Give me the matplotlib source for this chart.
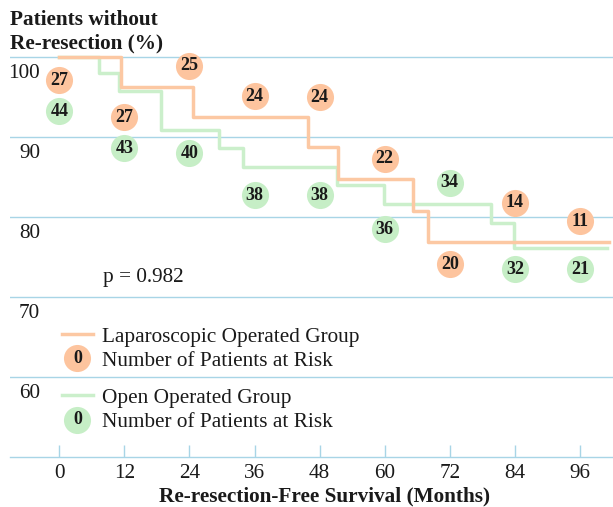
#!/usr/bin/env python3

import matplotlib
matplotlib.use('Agg')
import matplotlib.pyplot as plt
import matplotlib.transforms as mtransforms
from matplotlib.legend_handler import HandlerBase
from matplotlib.lines import Line2D
from matplotlib.text import Text

plt.rcParams['font.family'] = ['Liberation Serif', 'DejaVu Serif']

# Kaplan-Meier steps (time of each drop, survival after it)
lap_t = [0, 11.3, 24.7, 45.8, 51.3, 65.3, 67.9, 101.3]
lap_s = [100, 96.2, 92.5, 88.7, 84.7, 80.7, 76.9, 76.9]
open_t = [0, 7.4, 11.0, 18.7, 29.5, 33.8, 51.2, 59.8, 79.6, 83.8, 101.0]
open_s = [100, 98.0, 95.7, 90.9, 88.6, 86.3, 84.0, 81.6, 79.2, 76.1, 76.1]

# number at risk markers
risk_months = [0, 12, 24, 36, 48, 60, 72, 84, 96]
lap_risk_n = [27, 27, 25, 24, 24, 22, 20, 14, 11]
lap_risk_y = [97.1, 92.5, 98.9, 95.1, 95.0, 87.3, 74.1, 81.8, 79.5]
open_risk_n = [44, 43, 40, 38, 38, 36, 34, 32, 21]
open_risk_y = [93.25, 88.6, 88.0, 82.75, 82.75, 78.5, 84.3, 73.5, 73.5]

y_ticks = [60, 70, 80, 90, 100]
p_text = 'p = 0.982'

ORANGE_LINE = '#FCC8A3'
ORANGE_DOT = '#FDC49E'
GREEN_LINE = '#CBEFCB'
GREEN_DOT = '#C6EEC6'
GRID = '#A8D5E6'
TXT = '#1a1a1a'
FS = 15.3
NUM_FS = 13


class CircleNumHandler(HandlerBase):
    def __init__(self, color):
        super().__init__()
        self.color = color

    def create_artists(self, legend, orig_handle, xdescent, ydescent,
                       width, height, fontsize, trans):
        cx = width / 2 - xdescent
        cy = height / 2 - ydescent
        dot = Line2D([cx], [cy], marker='o', ms=19.5, mfc=self.color,
                     mec='none', ls='', transform=trans)
        num = Text(cx, cy, '0', ha='center', va='center', fontsize=NUM_FS,
                   fontweight='bold', color=TXT, transform=trans)
        return [dot, num]


fig = plt.figure(figsize=(6.13, 5.07), dpi=100)
ax = fig.add_axes([0.0163, 0.0986, 0.9837, 0.8205])
ax.set_xlim(-9.1, 102.1)
ax.set_ylim(50, 102)

for v in y_ticks:
    ax.axhline(v, color=GRID, lw=1.0, zorder=0)
for s in ['top', 'right', 'left']:
    ax.spines[s].set_visible(False)
ax.spines['bottom'].set_color(GRID)
ax.spines['bottom'].set_linewidth(1.0)

ax.step(open_t, open_s, where='post', color=GREEN_LINE, lw=2.5, zorder=2)
ax.step(lap_t, lap_s, where='post', color=ORANGE_LINE, lw=2.5, zorder=3)

for x, y, n in zip(risk_months, lap_risk_y, lap_risk_n):
    ax.plot(x, y, 'o', ms=19.5, mfc=ORANGE_DOT, mec='none', zorder=4, clip_on=False)
    ax.text(x, y, str(n), ha='center', va='center', fontsize=NUM_FS,
            fontweight='bold', color=TXT, zorder=5)
for x, y, n in zip(risk_months, open_risk_y, open_risk_n):
    ax.plot(x, y, 'o', ms=19.5, mfc=GREEN_DOT, mec='none', zorder=4, clip_on=False)
    ax.text(x, y, str(n), ha='center', va='center', fontsize=NUM_FS,
            fontweight='bold', color=TXT, zorder=5)

ax.text(8.1, 72.4, p_text, ha='left', va='center', fontsize=FS, color=TXT)

# x axis
ax.set_xticks(risk_months)
ax.tick_params(axis='x', direction='in', length=8.5, width=1.0, color=GRID,
               labelsize=FS, labelcolor=TXT, pad=5)
ax.set_xlabel('Re-resection-Free Survival (Months)', fontsize=FS,
              fontweight='bold', color=TXT)
ax.xaxis.set_label_coords(0.521, -0.071)

# y axis labels sit inside, just under their grid line
ax.set_yticks(y_ticks)
ax.tick_params(axis='y', length=0, pad=-21.6, labelsize=FS, labelcolor=TXT)
offset = mtransforms.ScaledTranslation(0, -0.14, fig.dpi_scale_trans)
for lab in ax.get_yticklabels():
    lab.set_transform(lab.get_transform() + offset)

fig.text(10 / 613, 1 - 20 / 507, 'Patients without', fontsize=FS,
         fontweight='bold', color=TXT, va='center', ha='left')
fig.text(10 / 613, 1 - 43 / 507, 'Re-resection (%)', fontsize=FS,
         fontweight='bold', color=TXT, va='center', ha='left')

# legends
lap_line = Line2D([], [], color=ORANGE_LINE, lw=2.5)
open_line = Line2D([], [], color=GREEN_LINE, lw=2.5)
lap_dot = object()
open_dot = object()
common = dict(frameon=False, loc='upper left', fontsize=FS, handlelength=1.45,
              handletextpad=0.45, labelspacing=0.2, borderpad=0, borderaxespad=0,
              labelcolor=TXT)
leg1 = ax.legend([lap_line, lap_dot],
                 ['Laparoscopic Operated Group', 'Number of Patients at Risk'],
                 handler_map={lap_dot: CircleNumHandler(ORANGE_DOT)},
                 bbox_to_anchor=(0.0862, 0.313), **common)
ax.add_artist(leg1)
ax.legend([open_line, open_dot],
          ['Open Operated Group', 'Number of Patients at Risk'],
          handler_map={open_dot: CircleNumHandler(GREEN_DOT)},
          bbox_to_anchor=(0.0862, 0.166), **common)

fig.savefig('out.png', dpi=100)
